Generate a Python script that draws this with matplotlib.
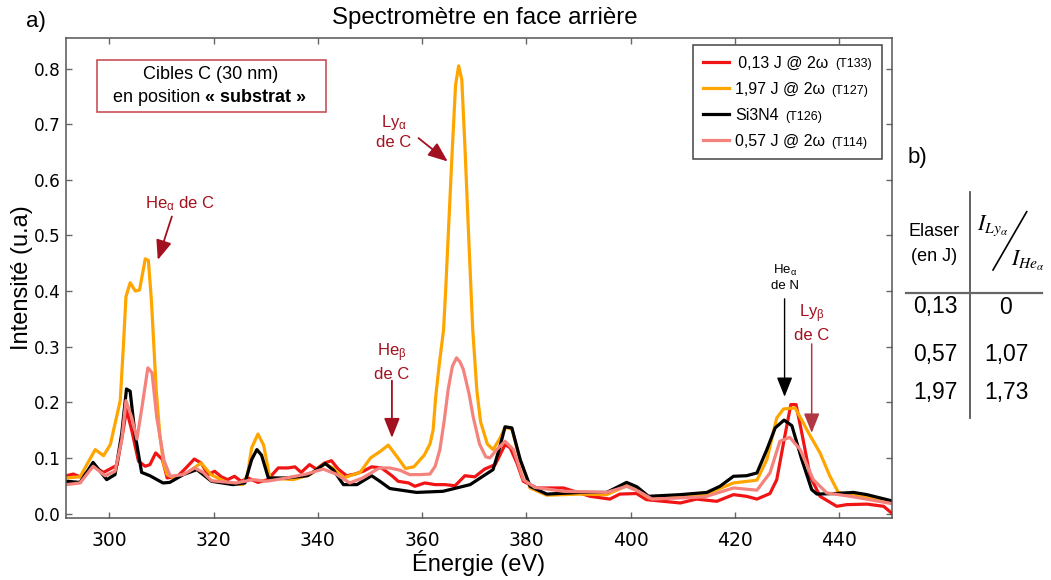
import numpy as np
import matplotlib.pyplot as plt
from matplotlib.lines import Line2D
from matplotlib.patches import Rectangle
from matplotlib.offsetbox import TextArea
from matplotlib.ticker import FormatStrFormatter

plt.rcParams['font.family'] = ['Liberation Sans', 'DejaVu Sans']
plt.rcParams['mathtext.fontset'] = 'custom'
plt.rcParams['mathtext.rm'] = 'Liberation Sans'
plt.rcParams['mathtext.it'] = 'Liberation Sans:italic'
plt.rcParams['mathtext.bf'] = 'Liberation Sans:bold'

# spectres : (énergie eV, intensité u.a)
red_pts = [(291.8, 0.068), (293.1, 0.071), (294.4, 0.066), (295.7, 0.073), (296.9, 0.085),
           (298.9, 0.074), (300.5, 0.082), (301.5, 0.087), (302.8, 0.157), (303.3, 0.187),
           (304.3, 0.150), (305.6, 0.094), (306.9, 0.085), (307.8, 0.088), (308.9, 0.109),
           (310.2, 0.097), (311.1, 0.064), (313.1, 0.067), (314.7, 0.082), (316.3, 0.098),
           (317.6, 0.091), (318.9, 0.070), (320.2, 0.076), (321.5, 0.066), (322.7, 0.061),
           (324.0, 0.067), (325.3, 0.058), (326.6, 0.064), (328.5, 0.056), (330.4, 0.061),
           (332.4, 0.082), (334.3, 0.082), (335.6, 0.084), (336.8, 0.074), (338.4, 0.088),
           (339.7, 0.080), (341.3, 0.091), (342.6, 0.095), (343.9, 0.080), (345.5, 0.068),
           (347.1, 0.071), (348.7, 0.076), (350.3, 0.084), (352.2, 0.082), (354.2, 0.068),
           (355.4, 0.058), (357.4, 0.055), (358.6, 0.049), (360.5, 0.055), (362.5, 0.052),
           (364.4, 0.052), (366.3, 0.050), (368.2, 0.068), (370.1, 0.066), (372.0, 0.080),
           (374.0, 0.088), (375.9, 0.124), (376.9, 0.118), (378.2, 0.090), (379.4, 0.058),
           (382.0, 0.046), (387.1, 0.046), (392.2, 0.031), (396.0, 0.026), (397.9, 0.035),
           (401.1, 0.036), (403.0, 0.025), (409.5, 0.019), (412.6, 0.026), (416.5, 0.022),
           (419.7, 0.034), (422.2, 0.031), (424.2, 0.026), (426.7, 0.036), (428.0, 0.061),
           (429.3, 0.127), (430.7, 0.196), (431.7, 0.196), (432.8, 0.145), (434.4, 0.067),
           (436.3, 0.031), (439.5, 0.013), (441.4, 0.016), (445.3, 0.017), (448.5, 0.013),
           (450.0, 0.001)]

orange_pts = [(291.8, 0.064), (294.4, 0.066), (295.7, 0.088), (297.3, 0.115), (298.9, 0.104),
              (300.2, 0.124), (301.5, 0.178), (302.1, 0.203), (302.7, 0.300), (303.2, 0.390),
              (304.0, 0.415), (305.0, 0.400), (305.8, 0.402), (306.9, 0.458), (307.5, 0.455),
              (308.1, 0.380), (309.0, 0.222), (309.7, 0.140), (310.4, 0.090), (311.1, 0.070),
              (312.4, 0.064), (314.9, 0.073), (317.6, 0.091), (319.5, 0.070), (322.7, 0.055),
              (325.6, 0.052), (326.5, 0.070), (327.3, 0.118), (328.5, 0.143), (329.6, 0.123),
              (330.8, 0.064), (335.3, 0.061), (338.5, 0.070), (341.4, 0.090), (343.0, 0.081),
              (344.9, 0.064), (348.1, 0.074), (350.1, 0.100), (352.0, 0.112), (353.5, 0.123),
              (355.2, 0.102), (356.8, 0.081), (358.4, 0.084), (360.4, 0.105), (361.5, 0.125),
              (362.1, 0.150), (362.6, 0.210), (363.3, 0.270), (364.1, 0.330), (364.5, 0.400),
              (365.0, 0.500), (365.7, 0.640), (366.4, 0.770), (367.0, 0.805), (367.6, 0.780),
              (368.2, 0.660), (369.0, 0.480), (369.7, 0.330), (370.5, 0.220), (371.2, 0.165),
              (372.5, 0.125), (373.6, 0.115), (374.9, 0.135), (375.9, 0.155), (377.2, 0.152),
              (378.8, 0.095), (380.7, 0.046), (383.9, 0.033), (390.3, 0.035), (395.4, 0.034),
              (397.3, 0.042), (399.2, 0.050), (401.2, 0.042), (403.5, 0.028), (409.5, 0.030),
              (414.2, 0.034), (419.7, 0.055), (424.2, 0.060), (426.1, 0.097), (428.0, 0.172),
              (429.3, 0.188), (431.5, 0.190), (432.8, 0.168), (434.1, 0.145), (436.3, 0.109),
              (438.2, 0.067), (439.8, 0.038), (444.6, 0.031), (450.0, 0.022)]

black_pts = [(291.8, 0.058), (294.4, 0.056), (296.9, 0.092), (299.5, 0.061), (301.1, 0.070),
             (302.4, 0.145), (303.3, 0.224), (304.0, 0.220), (304.9, 0.145), (306.2, 0.074),
             (307.8, 0.068), (310.3, 0.055), (311.6, 0.056), (314.2, 0.070), (316.8, 0.079),
             (318.0, 0.070), (319.6, 0.058), (323.7, 0.052), (326.0, 0.055), (327.3, 0.097),
             (328.3, 0.115), (329.2, 0.105), (330.5, 0.064), (334.0, 0.064), (338.0, 0.068),
             (339.8, 0.079), (341.4, 0.090), (343.0, 0.078), (344.9, 0.052), (347.5, 0.052),
             (350.3, 0.068), (351.9, 0.058), (353.8, 0.045), (358.9, 0.038), (364.0, 0.040),
             (369.2, 0.052), (373.6, 0.079), (374.9, 0.120), (375.9, 0.156), (377.2, 0.154),
             (378.8, 0.097), (380.7, 0.049), (383.9, 0.035), (390.3, 0.038), (395.4, 0.038),
             (397.3, 0.047), (399.2, 0.056), (401.2, 0.048), (403.4, 0.031), (409.5, 0.034),
             (414.6, 0.038), (417.1, 0.049), (419.7, 0.067), (422.2, 0.068), (424.2, 0.073),
             (426.1, 0.115), (427.7, 0.154), (429.4, 0.168), (430.9, 0.158), (432.8, 0.097),
             (434.7, 0.043), (435.7, 0.035), (439.2, 0.036), (442.7, 0.038), (445.3, 0.034),
             (450.0, 0.023)]

salmon_pts = [(291.8, 0.052), (294.4, 0.055), (296.9, 0.085), (299.2, 0.068), (301.1, 0.076),
              (302.4, 0.133), (303.2, 0.203), (304.3, 0.173), (305.3, 0.134), (306.2, 0.187),
              (307.4, 0.262), (308.2, 0.253), (309.1, 0.173), (310.5, 0.095), (311.7, 0.067),
              (314.2, 0.070), (316.4, 0.082), (318.0, 0.074), (319.6, 0.059), (324.3, 0.055),
              (327.6, 0.061), (330.1, 0.058), (334.0, 0.064), (337.8, 0.071), (341.0, 0.080),
              (343.5, 0.071), (346.1, 0.055), (348.6, 0.064), (351.8, 0.082), (353.8, 0.082),
              (355.7, 0.078), (357.6, 0.070), (359.6, 0.070), (361.5, 0.071), (362.5, 0.085),
              (363.4, 0.115), (364.2, 0.165), (365.0, 0.224), (365.8, 0.265), (366.6, 0.280),
              (367.3, 0.272), (367.9, 0.259), (369.0, 0.215), (369.8, 0.173), (371.0, 0.125),
              (372.2, 0.102), (373.0, 0.100), (374.3, 0.115), (375.9, 0.130), (377.5, 0.115),
              (379.4, 0.061), (381.6, 0.047), (387.1, 0.040), (395.4, 0.038), (399.2, 0.049),
              (401.5, 0.040), (404.1, 0.026), (414.2, 0.030), (419.7, 0.046), (424.2, 0.042),
              (426.7, 0.073), (428.6, 0.130), (430.5, 0.137), (432.5, 0.115), (435.0, 0.061),
              (437.6, 0.037), (442.1, 0.031), (450.0, 0.018)]

labels = ['\u20090,13 J @ 2ω', '1,97 J @ 2ω', 'Si3N4', '0,57 J @ 2ω']
shots = ['(T133)', '(T127)', '(T126)', '(T114)']
colors = ['#f01414', '#ffa500', '#000000', '#f4837d']

x_ticks = [300, 320, 340, 360, 380, 400, 420, 440]
y_ticks = [0.0, 0.1, 0.2, 0.3, 0.4, 0.5, 0.6, 0.7, 0.8]

# tableau b)
e_laser = ['0,13', '0,57', '1,97']
ratios = ['0', '1,07', '1,73']
row_y = [307, 354, 392]

DARKRED = '#a3101f'
W, H = 1051, 580
fig = plt.figure(figsize=(W / 100, H / 100), dpi=100)
ax = fig.add_axes([66 / W, 1 - 518 / H, (892 - 66) / W, (518 - 38) / H])

handles = []
for pts, col in zip([red_pts, orange_pts, black_pts, salmon_pts], colors):
    e, i = np.array(pts).T
    ln, = ax.plot(e, i, color=col, lw=2.3, solid_joinstyle='round')
    handles.append(ln)

ax.set_xlim(291.7, 450.1)
ax.set_ylim(-0.008, 0.855)
ax.set_xticks(x_ticks)
ax.set_yticks(y_ticks)
ax.yaxis.set_major_formatter(FormatStrFormatter('%.1f'))
ax.tick_params(direction='in', top=True, right=True, length=4, width=1, color='#666666')
ax.tick_params(axis='x', pad=9, labelsize=13.5)
ax.tick_params(axis='y', pad=4, labelsize=12.2)
for t in ax.get_xticklabels() + ax.get_yticklabels():
    t.set_family('DejaVu Sans')
for s in ax.spines.values():
    s.set_color('#555555')
    s.set_linewidth(1.1)

ax.set_xlabel('Énergie (eV)', fontsize=17, labelpad=0.3)
ax.set_ylabel('Intensité (u.a)', fontsize=17, labelpad=0.2)
fig.text(485 / W, 1 - 18 / H, 'Spectromètre en face arrière', fontsize=17.3,
         ha='center', va='center')
fig.text(36 / W, 1 - 22 / H, 'a)', fontsize=16, ha='center', va='center')
fig.text(917 / W, 1 - 157 / H, 'b)', fontsize=16, ha='center', va='center')

# encadré
ax.add_patch(Rectangle((0.0375, 0.8458), 0.2773, 0.1083, transform=ax.transAxes,
                       fill=False, edgecolor='#c8505a', lw=1.2))
ax.text(0.1755, 0.923, 'Cibles C (30 nm)', transform=ax.transAxes, fontsize=13,
        ha='center', va='center')
ax.text(0.1622, 0.875, 'en position', transform=ax.transAxes, fontsize=13,
        ha='right', va='center')
ax.text(0.1685, 0.875, '« substrat »', transform=ax.transAxes, fontsize=13,
        fontweight='bold', ha='left', va='center')

# annotations des raies
arrow = dict(arrowstyle='-|>,head_length=0.4,head_width=0.16', mutation_scale=30,
             color=DARKRED, lw=1.3, shrinkA=0, shrinkB=0)
ax.text(313.6, 0.558, r'He$_\mathrm{α}$ de C', color=DARKRED, fontsize=12,
        ha='center', va='center')
ax.annotate('', xy=(309.3, 0.456), xytext=(312.0, 0.534), arrowprops=arrow)

ax.text(354.6, 0.686, 'Ly$_\\mathrm{α}$\nde C', color=DARKRED, fontsize=12,
        ha='center', va='center', linespacing=1.25)
ax.annotate('', xy=(364.9, 0.633), xytext=(359.3, 0.675), arrowprops=arrow)

ax.text(354.2, 0.273, 'He$_\\mathrm{β}$\nde C', color=DARKRED, fontsize=12,
        ha='center', va='center', linespacing=1.25)
ax.annotate('', xy=(354.2, 0.136), xytext=(354.2, 0.239), arrowprops=arrow)

ax.text(429.5, 0.424, 'He$_\\mathrm{α}$\nde N', color='black', fontsize=9.5,
        ha='center', va='center', linespacing=1.25)
ax.annotate('', xy=(429.5, 0.21), xytext=(429.5, 0.386),
            arrowprops=dict(arrow, color='black', lw=1.0))

ax.text(434.7, 0.343, 'Ly$_\\mathrm{β}$\nde C', color=DARKRED, fontsize=12,
        ha='center', va='center', linespacing=1.25)
ax.annotate('', xy=(434.7, 0.145), xytext=(434.7, 0.305),
            arrowprops=dict(arrow, color='#b03845', lw=1.1))

# légende, avec le numéro de tir en plus petit
leg = ax.legend(handles, labels, loc='upper right', fontsize=11.5,
                frameon=True, fancybox=False, edgecolor='#444444', framealpha=1,
                borderpad=0.65, labelspacing=0.7, handlelength=1.6, handletextpad=0.4,
                borderaxespad=0, bbox_to_anchor=(1 - 10 / 826, 1 - 7 / 480))
leg.get_frame().set_linewidth(1.1)
for ln in leg.get_lines():
    ln.set_linewidth(2.3)
for column in leg._legend_handle_box.get_children():
    for entry, shot in zip(column.get_children(), shots):
        ta = TextArea(shot, textprops=dict(size=9, color='black'))
        ta.set_figure(fig)
        entry.get_children().append(ta)

# tableau
fig.add_artist(Line2D([970 / W, 970 / W], [1 - 192 / H, 1 - 418 / H], color='#555555', lw=1.3))
fig.add_artist(Line2D([906 / W, 1042 / W], [1 - 293 / H, 1 - 293 / H], color='#666666', lw=1.6))
fig.text(934 / W, 1 - 232 / H, 'Elaser', fontsize=13, ha='center', va='center')
fig.text(934 / W, 1 - 257 / H, '(en J)', fontsize=13, ha='center', va='center')
for y, e_l, r in zip(row_y, e_laser, ratios):
    fig.text(935 / W, 1 - y / H, e_l, fontsize=16.5, ha='center', va='center')
    fig.text(1006 / W, 1 - y / H, r, fontsize=16.5, ha='center', va='center')
fig.text(977 / W, 1 - 230 / H, r'$I_{Ly_\alpha}$', fontsize=16, math_fontfamily='stix',
         ha='left', va='baseline')
fig.text(1011 / W, 1 - 266 / H, r'$I_{He_\alpha}$', fontsize=16, math_fontfamily='stix',
         ha='left', va='baseline')
fig.add_artist(Line2D([993 / W, 1026.7 / W], [1 - 270 / H, 1 - 211.7 / H], color='black', lw=1.2))

fig.savefig('out.png', dpi=100)
